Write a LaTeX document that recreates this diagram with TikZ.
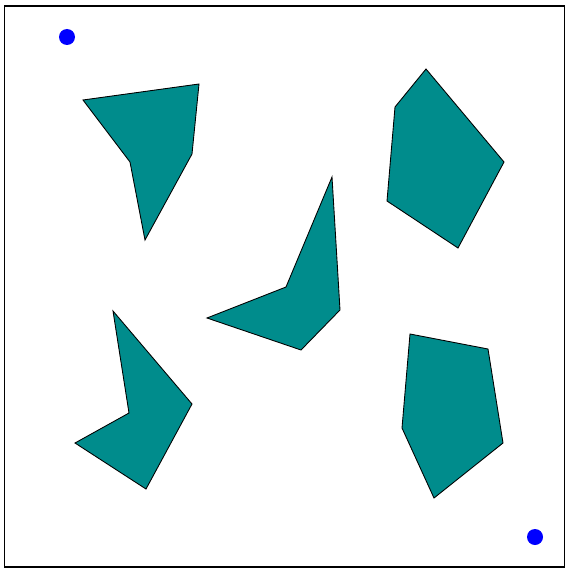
\documentclass[tikz,border=0pt]{standalone}
\usepackage{tikz}
\definecolor{tealfill}{RGB}{0,140,140}
\begin{document}
\begin{tikzpicture}[x=0.02cm,y=-0.02cm,
    shard/.style={draw=black,fill=tealfill,line width=0.5pt,line join=miter},
    marker/.style={fill=blue}]

\useasboundingbox (0,0) rectangle (567,571);

% Frame
\draw[line width=0.6pt] (4.5,6) rectangle (564.5,567);

% Corner markers
\fill[marker] (67,37) circle (8);
\fill[marker] (535,537) circle (8);

% Polygons
\draw[shard] (83,100) -- (199,84) -- (192,154) -- (145,240) -- (130,162) -- cycle;
\draw[shard] (426,69) -- (504,162) -- (458,248) -- (387,201) -- (395,107) -- cycle;
\draw[shard] (332,177) -- (340,310) -- (301,350) -- (207,318) -- (286,287) -- cycle;
\draw[shard] (113,311) -- (192,404) -- (146,489) -- (75,443) -- (129,413) -- cycle;
\draw[shard] (410,334) -- (488,349) -- (503,443) -- (434,498) -- (402,428) -- cycle;

\end{tikzpicture}
\end{document}
